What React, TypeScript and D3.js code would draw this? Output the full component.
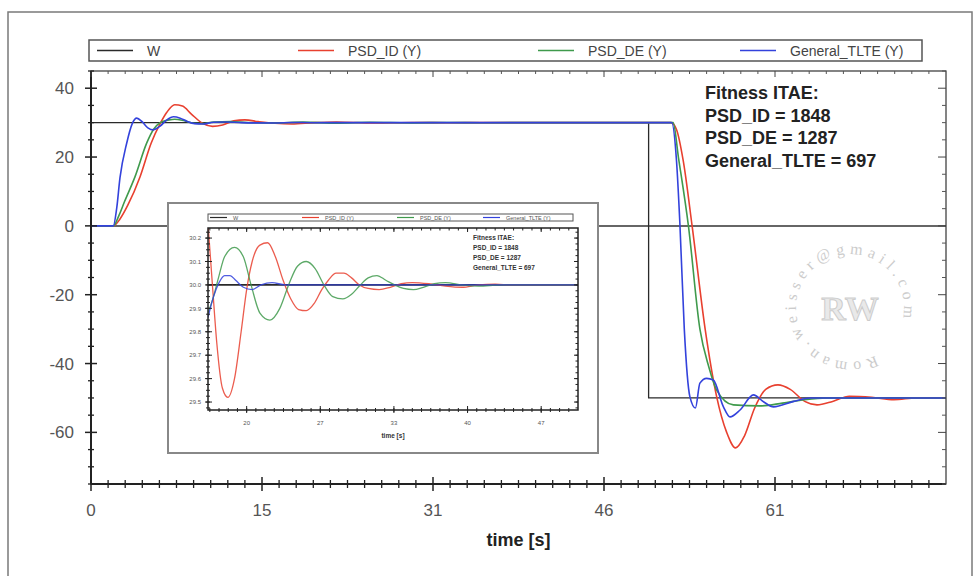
import React from "react";
import * as d3 from "d3";

// legend + annotation texts
const seriesNames = ["W", "PSD_ID (Y)", "PSD_DE (Y)", "General_TLTE (Y)"];
const seriesColors = ["#2a2a2a", "#e8402f", "#3f9a4c", "#3342dc"];
const fitnessLines = ["Fitness ITAE:", "PSD_ID = 1848", "PSD_DE = 1287", "General_TLTE = 697"];

// main chart, [time, value]
const wMain: [number, number][] = [[0, 30], [50, 30], [50, -50], [76.67, -50]];
const psdIdMain: [number, number][] = [
  [0, 0], [2, 0], [2.6, 2], [3.3, 6], [4.4, 14.3], [5.4, 24.1], [6.2, 29.7], [6.8, 33], [7.5, 35.2],
  [8.2, 34.8], [9, 32.5], [10, 29.8], [10.9, 28.9], [11.8, 29.3], [12.8, 30.5], [13.8, 30.8], [15, 30.3],
  [16.5, 29.8], [18, 29.6], [20, 30], [22, 30.2], [25.4, 29.9], [28.8, 30.05], [32, 29.98], [36, 30.01],
  [52, 30], [52.5, 28], [53.1, 19], [53.9, 0], [55.07, -30], [56.1, -49.6], [57, -60], [57.8, -64.5],
  [58.6, -61], [59.5, -53], [60.5, -47.5], [61.6, -46.2], [62.7, -47.5], [64, -51], [65.1, -52],
  [66.5, -51], [68, -49.5], [70, -49.8], [72, -50.5], [74, -50], [76.67, -50],
];
const psdDeMain: [number, number][] = [
  [0, 0], [2, 0], [2.5, 3], [3, 7], [3.95, 14.3], [5, 24.1], [5.6, 28], [6.2, 30], [7, 30.8], [7.5, 31],
  [8.3, 30.6], [9.2, 29.8], [10, 29.7], [11, 30.2], [12.5, 30.3], [14, 30], [16.5, 29.9], [19, 30.15],
  [22, 29.85], [25, 30.1], [28.7, 29.94], [32, 30.04], [35, 29.98], [38, 30.01], [52.2, 30], [52.67, 20],
  [53.57, 0], [54.6, -30], [55.4, -41], [56.1, -47.7], [57.6, -52], [60, -52.3], [62, -51.5], [64, -50.5],
  [66, -50], [76.67, -50],
];
const tlteMain: [number, number][] = [
  [0, 0], [2, 0], [2.3, 5], [2.6, 14], [3.2, 24], [3.7, 29.7], [4.1, 31.3], [4.6, 30.2], [5.1, 28.5],
  [5.6, 27.9], [6.2, 29], [6.8, 30.8], [7.4, 31.7], [8, 31.3], [8.6, 30.4], [9.3, 29.7], [10, 29.6],
  [11, 30.1], [12, 30.2], [13.5, 30], [16.5, 29.9], [18, 30.04], [20, 29.98], [22, 30.01], [52.07, 30],
  [52.5, 19], [52.8, 1], [53.2, -30], [53.7, -49.6], [54.2, -52.9], [54.6, -45.7], [55.2, -44.3],
  [55.8, -44.8], [56.7, -52.5], [57.3, -55.5], [58.2, -53.5], [59.4, -49.1], [60.3, -51.1], [61.2, -52.6],
  [63, -51], [64.5, -50], [76.67, -50],
];

// inset (zoom of the settling around 30)
const wInset: [number, number][] = [[16.5, 30], [50, 30]];
const psdIdInset: [number, number][] = [
  [16.5, 30.26], [16.9, 30.0], [17.3, 29.75], [17.8, 29.56], [18.3, 29.52], [18.9, 29.6], [19.5, 29.8],
  [20, 29.98], [20.5, 30.1], [21.2, 30.17], [21.9, 30.18], [22.6, 30.12], [23.3, 30.02], [24, 29.94],
  [24.7, 29.895], [25.4, 29.89], [26.1, 29.92], [26.8, 29.98], [27.4, 30.02], [28.1, 30.05], [28.8, 30.05],
  [29.5, 30.03], [30.2, 30.0], [31, 29.985], [32, 29.98], [33, 29.99], [34, 30.005], [35, 30.01],
  [36.5, 30.005], [38, 29.995], [39.5, 29.99], [41, 30.0], [42.5, 30.003], [44, 30.0], [50, 30.0],
];
const psdDeInset: [number, number][] = [
  [16.5, 29.88], [17, 29.95], [17.5, 30.04], [18, 30.12], [18.9, 30.16], [19.7, 30.12], [20.4, 30.0],
  [21.2, 29.88], [22.1, 29.85], [23, 29.9], [23.8, 30.0], [24.6, 30.08], [25.4, 30.1], [26.2, 30.07],
  [27, 30.0], [27.8, 29.95], [28.7, 29.94], [29.5, 29.96], [30.3, 30.0], [31, 30.03], [31.8, 30.04],
  [32.6, 30.02], [33.4, 30.0], [34.2, 29.985], [35.1, 29.98], [36, 29.99], [37, 30.005], [38, 30.01],
  [39.5, 30.0], [41, 29.995], [43, 30.0], [50, 30.0],
];
const tlteInset: [number, number][] = [
  [16.5, 29.86], [17, 29.95], [17.5, 30.01], [18, 30.04], [18.5, 30.04], [19, 30.02], [19.7, 29.99],
  [20.5, 29.98], [21.3, 30.0], [22.3, 30.01], [23.5, 30.0], [50, 30.0],
];

const mainSeries = [wMain, psdIdMain, psdDeMain, tlteMain];
const insetSeries = [wInset, psdIdInset, psdDeInset, tlteInset];

const font = "Liberation Sans, Arial, sans-serif";

export default function App() {
  // main plot
  const x = d3.scaleLinear().domain([0, 230 / 3]).range([91, 946]);
  const y = d3.scaleLinear().domain([-75, 45]).range([484, 71]);
  const [x0, x1] = x.range();
  const [y0, y1] = [y(-75), y(45)];

  const xMajor = d3.range(0, 5).map(k => (k * 46) / 3);
  const xMinor = d3.range(0, 51).filter(k => k % 10 !== 0).map(k => (k * 46) / 30);
  const yMajor = d3.range(-60, 41, 20);
  const yMinor = d3.range(-75, 46, 5).filter(v => v % 20 !== 0);

  const line = (sx: any, sy: any, curve: any) =>
    d3.line<[number, number]>().x(d => sx(d[0])).y(d => sy(d[1])).curve(curve);

  // inset
  const ix = d3.scaleLinear().domain([16.5, 50]).range([208, 578]);
  const iy = d3.scaleLinear().domain([29.466, 30.243]).range([410, 228]);
  const [ix0, ix1] = ix.range();
  const [iy0, iy1] = iy.range();
  const ixMajor = d3.range(0, 5).map(k => 20 + (k * 20) / 3);
  const ixMinor = d3.range(-4, 44).map(k => 20 + (k * 5) / 6).filter(v => v > 16.5 && v < 50);
  const iyMajor = d3.range(0, 8).map(k => 29.5 + k * 0.1);
  const iyMinor = d3.range(-1, 31).map(k => 29.475 + k * 0.025).filter(v => v > 29.466 && v < 30.243);

  const legendMainX = [97, 298, 538, 740];
  const legendInsetX = [210, 302, 397, 483];

  // watermark ring
  const cx = 850, cy = 308, r = 54;
  const a0 = (62 * Math.PI) / 180, a1 = (28 * Math.PI) / 180;
  const ringPath = `M${cx + r * Math.cos(a0)},${cy + r * Math.sin(a0)} A${r},${r} 0 1 1 ${cx + r * Math.cos(a1)},${cy + r * Math.sin(a1)}`;

  return (
    <svg width={979} height={576} style={{ position: "absolute", left: 0, top: 0, background: "#fff" }} fontFamily={font}>
      <defs>
        <clipPath id="mainClip"><rect x={x0} y={y1} width={x1 - x0} height={y0 - y1} /></clipPath>
        <clipPath id="insetClip"><rect x={ix0} y={iy1} width={ix1 - ix0} height={iy0 - iy1} /></clipPath>
        <path id="ring" d={ringPath} />
      </defs>

      {/* outer frame */}
      <rect x={8} y={12} width={964} height={580} fill="none" stroke="#7a7a7a" strokeWidth={1.5} />

      {/* legend */}
      <rect x={89} y={40} width={833} height={21} fill="#fff" stroke="#555" strokeWidth={1.5} />
      {seriesNames.map((n, i) => (
        <g key={n}>
          <line x1={legendMainX[i]} x2={legendMainX[i] + 36} y1={50.5} y2={50.5} stroke={seriesColors[i]} strokeWidth={1.5} />
          <text x={legendMainX[i] + 50} y={55.5} fontSize={14} fill="#444">{n}</text>
        </g>
      ))}

      {/* watermark */}
      <g opacity={0.5}>
        <text fontSize={16} fontFamily="Liberation Serif, serif" fill="#9a9a9a">
          <textPath href="#ring" textLength={290} lengthAdjust="spacing">Roman.weisser@gmail.com</textPath>
        </text>
        <text x={cx} y={cy + 12} textAnchor="middle" fontSize={34} fontWeight="bold" fontFamily="Liberation Serif, serif"
          fill="#d4d4d4" stroke="#9a9a9a" strokeWidth={1}>RW</text>
      </g>

      {/* zero line */}
      <line x1={x0} x2={x1} y1={y(0)} y2={y(0)} stroke="#333" strokeWidth={1.5} />

      {/* main curves */}
      <g clipPath="url(#mainClip)" fill="none">
        {mainSeries.map((s, i) => (
          <path key={i} d={line(x, y, i === 0 ? d3.curveLinear : d3.curveMonotoneX)(s) || ""}
            stroke={seriesColors[i]} strokeWidth={i === 0 ? 1.3 : 1.6} />
        ))}
      </g>

      {/* main axes */}
      <rect x={x0} y={y1} width={x1 - x0} height={y0 - y1} fill="none" stroke="#333" strokeWidth={1.2} />
      <line x1={x0} x2={x0} y1={y1} y2={y0} stroke="#222" strokeWidth={2} />
      <line x1={x0} x2={x1} y1={y0} y2={y0} stroke="#222" strokeWidth={2} />
      {xMajor.map(t => (
        <g key={"xm" + t}>
          <line x1={x(t)} x2={x(t)} y1={y0 - 7} y2={y0 + 7} stroke="#222" strokeWidth={1.5} />
          <line x1={x(t)} x2={x(t)} y1={y1} y2={y1 + 6} stroke="#444" strokeWidth={1} />
          <text x={x(t)} y={516} textAnchor="middle" fontSize={17} fill="#555">{Math.round(t)}</text>
        </g>
      ))}
      {xMinor.map(t => (
        <g key={"xn" + t}>
          <line x1={x(t)} x2={x(t)} y1={y0 - 4} y2={y0 + 4} stroke="#222" strokeWidth={1.3} />
          <line x1={x(t)} x2={x(t)} y1={y1} y2={y1 + 3} stroke="#555" strokeWidth={1} />
        </g>
      ))}
      {yMajor.map(v => (
        <g key={"ym" + v}>
          <line x1={x0 - 6} x2={x0 + 6} y1={y(v)} y2={y(v)} stroke="#222" strokeWidth={1.5} />
          <line x1={x1 - 8} x2={x1} y1={y(v)} y2={y(v)} stroke="#444" strokeWidth={1} />
          <text x={74} y={y(v)} dy="0.36em" textAnchor="end" fontSize={17} fill="#555">{v}</text>
        </g>
      ))}
      {yMinor.map(v => (
        <g key={"yn" + v}>
          <line x1={x0 - 3} x2={x0 + 3} y1={y(v)} y2={y(v)} stroke="#222" strokeWidth={1.3} />
          <line x1={x1 - 4} x2={x1} y1={y(v)} y2={y(v)} stroke="#555" strokeWidth={1} />
        </g>
      ))}
      <text x={(x0 + x1) / 2} y={546} textAnchor="middle" fontSize={18} fontWeight="bold" fill="#222">time [s]</text>

      {/* fitness annotation */}
      {fitnessLines.map((s, i) => (
        <text key={s} x={705} y={99 + i * 22.7} fontSize={18} fontWeight="bold" fill="#222">{s}</text>
      ))}

      {/* inset */}
      <rect x={168} y={203} width={430} height={250} fill="#fff" stroke="#888" strokeWidth={2} />
      <rect x={208} y={214} width={365} height={7} fill="#fff" stroke="#555" strokeWidth={1} />
      {seriesNames.map((n, i) => (
        <g key={"il" + n}>
          <line x1={legendInsetX[i]} x2={legendInsetX[i] + 17} y1={217.5} y2={217.5} stroke={seriesColors[i]} strokeWidth={1.2} />
          <text x={legendInsetX[i] + 23} y={219.5} fontSize={5.5} fill="#555">{n}</text>
        </g>
      ))}
      <g clipPath="url(#insetClip)" fill="none">
        {insetSeries.map((s, i) => (
          <path key={i} d={line(ix, iy, i === 0 ? d3.curveLinear : d3.curveMonotoneX)(s) || ""}
            stroke={seriesColors[i]} strokeWidth={i === 0 ? 1.8 : 1.3} opacity={i === 0 ? 1 : 0.85} />
        ))}
      </g>
      <rect x={ix0} y={iy1} width={ix1 - ix0} height={iy0 - iy1} fill="none" stroke="#222" strokeWidth={1.5} />
      {ixMajor.map(t => (
        <g key={"ixm" + t}>
          <line x1={ix(t)} x2={ix(t)} y1={iy0 - 4} y2={iy0 + 3} stroke="#222" strokeWidth={1} />
          <line x1={ix(t)} x2={ix(t)} y1={iy1} y2={iy1 + 4} stroke="#222" strokeWidth={1} />
          <text x={ix(t)} y={425} textAnchor="middle" fontSize={6} fill="#555">{Math.round(t)}</text>
        </g>
      ))}
      {ixMinor.map(t => (
        <g key={"ixn" + t}>
          <line x1={ix(t)} x2={ix(t)} y1={iy0 - 2} y2={iy0 + 2} stroke="#222" strokeWidth={1} />
          <line x1={ix(t)} x2={ix(t)} y1={iy1} y2={iy1 + 2.5} stroke="#222" strokeWidth={1} />
        </g>
      ))}
      {iyMajor.map(v => (
        <g key={"iym" + v}>
          <line x1={ix0 - 3} x2={ix0 + 4} y1={iy(v)} y2={iy(v)} stroke="#222" strokeWidth={1} />
          <line x1={ix1 - 4} x2={ix1} y1={iy(v)} y2={iy(v)} stroke="#222" strokeWidth={1} />
          <text x={201} y={iy(v)} dy="0.36em" textAnchor="end" fontSize={6} fill="#555">{v.toFixed(1)}</text>
        </g>
      ))}
      {iyMinor.map(v => (
        <g key={"iyn" + v}>
          <line x1={ix0 - 2} x2={ix0 + 2} y1={iy(v)} y2={iy(v)} stroke="#222" strokeWidth={1} />
          <line x1={ix1 - 2.5} x2={ix1} y1={iy(v)} y2={iy(v)} stroke="#222" strokeWidth={1} />
        </g>
      ))}
      <text x={(ix0 + ix1) / 2} y={438} textAnchor="middle" fontSize={6.5} fontWeight="bold" fill="#333">time [s]</text>
      {fitnessLines.map((s, i) => (
        <text key={"if" + s} x={473} y={240 + i * 10} fontSize={6.5} fontWeight="bold" fill="#333">{s}</text>
      ))}
    </svg>
  );
}
